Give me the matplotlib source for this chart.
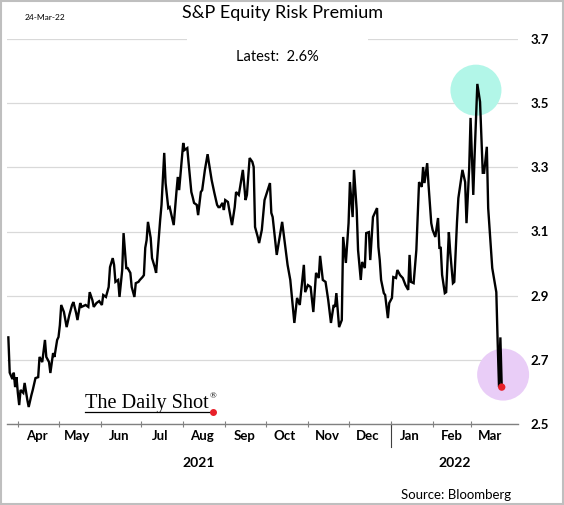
import matplotlib
matplotlib.use('Agg')
import matplotlib.pyplot as plt
import matplotlib.transforms as mtransforms
import matplotlib.dates as mdates
from matplotlib.patches import Rectangle
from matplotlib.lines import Line2D
import pandas as pd
import numpy as np

# ---------------- data ----------------
dates = [
    "2021-03-25", "2021-03-26", "2021-03-28", "2021-03-29", "2021-03-30", "2021-03-31",
    "2021-04-01", "2021-04-02", "2021-04-03", "2021-04-05", "2021-04-06", "2021-04-08",
    "2021-04-09", "2021-04-11", "2021-04-12", "2021-04-14", "2021-04-16", "2021-04-17",
    "2021-04-19", "2021-04-21", "2021-04-22", "2021-04-24", "2021-04-25", "2021-04-27",
    "2021-04-28", "2021-04-30", "2021-05-01", "2021-05-02", "2021-05-03", "2021-05-05",
    "2021-05-07", "2021-05-09", "2021-05-11", "2021-05-12", "2021-05-14", "2021-05-15",
    "2021-05-17", "2021-05-18", "2021-05-21", "2021-05-23", "2021-05-24", "2021-05-26",
    "2021-05-27", "2021-05-29", "2021-05-31", "2021-06-02", "2021-06-03", "2021-06-05",
    "2021-06-07", "2021-06-08", "2021-06-10", "2021-06-11", "2021-06-12", "2021-06-14",
    "2021-06-15", "2021-06-17", "2021-06-18", "2021-06-20", "2021-06-21", "2021-06-23",
    "2021-06-24", "2021-06-26", "2021-06-27", "2021-06-29", "2021-06-30", "2021-07-02",
    "2021-07-03", "2021-07-04", "2021-07-05", "2021-07-06", "2021-07-08", "2021-07-09",
    "2021-07-11", "2021-07-12", "2021-07-14", "2021-07-15", "2021-07-16", "2021-07-18",
    "2021-07-19", "2021-07-21", "2021-07-22", "2021-07-25", "2021-07-27", "2021-07-28",
    "2021-07-29", "2021-08-01", "2021-08-02", "2021-08-04", "2021-08-05", "2021-08-07",
    "2021-08-08", "2021-08-09", "2021-08-11", "2021-08-12", "2021-08-14", "2021-08-15",
    "2021-08-17", "2021-08-19", "2021-08-20", "2021-08-22", "2021-08-24", "2021-08-26",
    "2021-08-27", "2021-08-28", "2021-08-30", "2021-08-31", "2021-09-01", "2021-09-03",
    "2021-09-04", "2021-09-06", "2021-09-08", "2021-09-09", "2021-09-11", "2021-09-12",
    "2021-09-14", "2021-09-15", "2021-09-16", "2021-09-17", "2021-09-19", "2021-09-21",
    "2021-09-22", "2021-09-23", "2021-09-25", "2021-09-26", "2021-09-28", "2021-09-30",
    "2021-10-04", "2021-10-05", "2021-10-06", "2021-10-09", "2021-10-13", "2021-10-17",
    "2021-10-19", "2021-10-22", "2021-10-24", "2021-10-26", "2021-10-29", "2021-10-30",
    "2021-11-01", "2021-11-03", "2021-11-05", "2021-11-07", "2021-11-09", "2021-11-10",
    "2021-11-12", "2021-11-14", "2021-11-16", "2021-11-18", "2021-11-20", "2021-11-21",
    "2021-11-22", "2021-11-24", "2021-11-26", "2021-11-27", "2021-11-29", "2021-12-01",
    "2021-12-02", "2021-12-04", "2021-12-05", "2021-12-07", "2021-12-08", "2021-12-10",
    "2021-12-11", "2021-12-13", "2021-12-14", "2021-12-16", "2021-12-17", "2021-12-19",
    "2021-12-22", "2021-12-23", "2021-12-24", "2021-12-25", "2021-12-27", "2021-12-28",
    "2021-12-30", "2021-12-31", "2022-01-02", "2022-01-03", "2022-01-05", "2022-01-06",
    "2022-01-08", "2022-01-10", "2022-01-12", "2022-01-14", "2022-01-15", "2022-01-16",
    "2022-01-18", "2022-01-20", "2022-01-22", "2022-01-24", "2022-01-25", "2022-01-26",
    "2022-01-28", "2022-01-29", "2022-01-31", "2022-02-01", "2022-02-03", "2022-02-05",
    "2022-02-06", "2022-02-07", "2022-02-08", "2022-02-10", "2022-02-11", "2022-02-13",
    "2022-02-14", "2022-02-16", "2022-02-17", "2022-02-19", "2022-02-20", "2022-02-23",
    "2022-02-25", "2022-02-26", "2022-02-28", "2022-03-01", "2022-03-03", "2022-03-04",
    "2022-03-06", "2022-03-08", "2022-03-10", "2022-03-11", "2022-03-13", "2022-03-14",
    "2022-03-17", "2022-03-20", "2022-03-21", "2022-03-22", "2022-03-23", "2022-03-24",
]
values = [
    2.77, 2.66, 2.64, 2.66, 2.615, 2.646,
    2.597, 2.559, 2.606, 2.597, 2.628, 2.575,
    2.553, 2.59, 2.606, 2.643, 2.646, 2.709,
    2.693, 2.762, 2.709, 2.693, 2.659, 2.721,
    2.709, 2.762, 2.771, 2.808, 2.871, 2.849,
    2.802, 2.84, 2.871, 2.88, 2.846, 2.824,
    2.877, 2.865, 2.871, 2.865, 2.911, 2.886,
    2.865, 2.877, 2.883, 2.871, 2.902, 2.896,
    2.927, 2.989, 3.017, 2.996, 2.943, 2.949,
    2.896, 2.98, 3.095, 2.986, 2.986, 2.971,
    2.927, 2.896, 2.939, 2.943, 2.949, 2.958,
    2.964, 3.049, 3.073, 3.13, 3.08, 3.017,
    2.989, 2.971, 3.083, 3.136, 3.183, 3.345,
    3.251, 3.173, 3.176, 3.12, 3.223, 3.27,
    3.229, 3.376, 3.354, 3.36, 3.313, 3.223,
    3.207, 3.189, 3.183, 3.151, 3.223, 3.229,
    3.292, 3.341, 3.313, 3.26, 3.22, 3.183,
    3.176, 3.176, 3.189, 3.167, 3.198, 3.192,
    3.167, 3.12, 3.176, 3.223, 3.214, 3.239,
    3.292, 3.245, 3.198, 3.214, 3.329, 3.317,
    3.301, 3.114, 3.083, 3.064, 3.105, 3.198,
    3.251, 3.158, 3.145, 3.027, 3.13, 2.996,
    2.949, 2.815, 2.893, 2.871, 2.996, 2.911,
    2.933, 2.927, 2.849, 2.971, 2.955, 3.024,
    2.949, 2.943, 2.886, 2.815, 2.871, 2.865,
    2.908, 2.802, 2.824, 3.083, 3.002, 3.126,
    3.254, 3.145, 3.292, 3.167, 3.042, 2.949,
    3.005, 2.986, 3.095, 3.098, 3.011, 3.145,
    3.173, 3.052, 3.011, 2.949, 2.908, 2.902,
    2.83, 2.877, 2.893, 2.958, 2.955, 2.98,
    2.964, 2.955, 2.933, 2.918, 3.027, 2.943,
    2.939, 3.042, 3.254, 3.239, 3.301, 3.251,
    3.313, 3.245, 3.126, 3.105, 3.083, 3.142,
    3.049, 3.049, 2.965, 2.908, 2.911, 3.098,
    3.036, 2.939, 2.943, 3.13, 3.204, 3.292,
    3.254, 3.126, 3.298, 3.454, 3.214, 3.339,
    3.56, 3.504, 3.283, 3.283, 3.364, 3.173,
    2.986, 2.911, 2.755, 2.615, 2.77, 2.615,
]
y_ticks = [2.5, 2.7, 2.9, 3.1, 3.3, 3.5, 3.7]
month_starts = pd.date_range("2021-04-01", "2022-03-01", freq="MS")
month_labels = [d.strftime("%b") for d in month_starts]
years = ["2021", "2022"]

title = "S&P Equity Risk Premium"
latest_text = "Latest:  2.6%"
date_stamp = "24-Mar-22"
source = "Source: Bloomberg"

# ---------------- figure ----------------
FONT = "Lato"
W, H = 564, 505
fig = plt.figure(figsize=(W / 100, H / 100), dpi=100)
ax = fig.add_axes([7 / W, 1 - 424 / H, (518 - 7) / W, (424 - 39) / H])

x = pd.to_datetime(dates)
v = np.array(values)
ax.plot(x, v, color="black", lw=1.7, zorder=3, solid_joinstyle="miter")

imax = int(np.argmax(v))
off_up = mtransforms.offset_copy(ax.transData, fig=fig, x=-1, y=-4.5, units="points")
ax.scatter([x[imax]], [v[imax]], s=1350, color="#b2f6e8", edgecolor="none",
           zorder=2, clip_on=False, transform=off_up)
off_lo = mtransforms.offset_copy(ax.transData, fig=fig, x=1, y=9, units="points")
ax.scatter([x[-1]], [v[-1]], s=1400, color="#e9cdf7", edgecolor="none",
           zorder=2, clip_on=False, transform=off_lo)
ax.scatter([x[-1]], [v[-1]], s=28, color="#e8202a", edgecolor="none", zorder=4)

ax.set_ylim(2.5, 3.7)
ax.set_xlim(pd.Timestamp("2021-03-24"), pd.Timestamp("2022-04-05"))
ax.set_yticks(y_ticks)
ax.set_yticklabels([f"{t:.1f}" for t in y_ticks], fontfamily=FONT,
                   fontweight="bold", fontsize=9.5)
ax.yaxis.tick_right()
ax.tick_params(axis="y", length=0, pad=9)
ax.set_axisbelow(True)
ax.grid(axis="y", color="#d9d9d9", lw=0.9)

for s in ["top", "left", "right"]:
    ax.spines[s].set_visible(False)
ax.spines["bottom"].set_color("#808080")
ax.spines["bottom"].set_linewidth(1.0)

ax.set_xticks(month_starts)
ax.set_xticklabels([])
ax.tick_params(axis="x", which="major", length=5, direction="inout",
               color="#808080", width=0.8)
mid = month_starts + pd.Timedelta(days=14)
ax.set_xticks(mid, minor=True)
ax.set_xticklabels(month_labels, minor=True, fontfamily=FONT,
                   fontweight="bold", fontsize=9.5)
ax.tick_params(axis="x", which="minor", length=0, pad=4.5)

# year separator and year labels
trans = mtransforms.blended_transform_factory(ax.transData, ax.transAxes)
jan = pd.Timestamp("2022-01-01")
ax.add_line(Line2D([jan, jan], [0, -0.06], transform=trans, color="#404040",
                   lw=0.8, clip_on=False))
xl = ax.get_xlim()
jn = mdates.date2num(jan)
ax.text((xl[0] + jn) / 2, -0.102, years[0], transform=trans, ha="center",
        va="center", fontfamily=FONT, fontweight="bold", fontsize=10)
ax.text((jn + xl[1]) / 2, -0.102, years[1], transform=trans, ha="center",
        va="center", fontfamily=FONT, fontweight="bold", fontsize=10)

# white box interrupting top gridline behind title
ax.add_patch(Rectangle(((187 - 7) / 511, 0.985), (368 - 187) / 511, 0.03,
                       transform=ax.transAxes, facecolor="white",
                       edgecolor="none", zorder=1, clip_on=False))

# texts
fig.text(283 / W, 1 - 13 / H, title, ha="center", va="center",
         fontfamily=FONT, fontsize=13)
fig.text(277 / W, 1 - 57 / H, latest_text, ha="center", va="center",
         fontfamily=FONT, fontsize=10.5)
fig.text(45 / W, 1 - 18 / H, date_stamp, ha="center", va="center",
         fontfamily=FONT, fontsize=6)
fig.text(511 / W, 1 - 495 / H, source, ha="right", va="center",
         fontfamily=FONT, fontsize=9.5)

# logo
logo = fig.text(85 / W, 1 - 408 / H, "The Daily Shot", ha="left", va="baseline",
                fontfamily="Liberation Serif", fontsize=14.6)
fig.canvas.draw()
bb = logo.get_window_extent()
x_end = bb.x1 / W
fig.text(x_end + 1 / W, 1 - 398 / H, "®", ha="left", va="baseline",
         fontfamily="Liberation Serif", fontsize=6.5)
fig.add_artist(Line2D([85 / W, x_end + 4 / W], [1 - 411.5 / H, 1 - 411.5 / H],
                      transform=fig.transFigure, color="black", lw=0.9))
fig.add_artist(Line2D([x_end + 4 / W], [1 - 411.5 / H], transform=fig.transFigure,
                      marker="o", markersize=4, color="#e8202a", lw=0))

# border
fig.add_artist(Rectangle((0.002, 0.002), 0.996, 0.996, transform=fig.transFigure,
                         fill=False, edgecolor="#bfbfbf", lw=1.5))

fig.savefig("out.png", dpi=100)
